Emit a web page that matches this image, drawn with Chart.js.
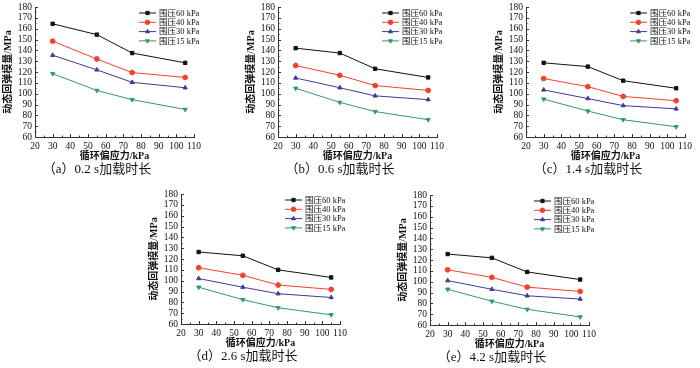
<!DOCTYPE html>
<html>
<head>
<meta charset="utf-8">
<script src="https://cdn.jsdelivr.net/npm/chart.js@4/dist/chart.umd.min.js"></script>
<style>
  html, body { margin: 0; padding: 0; background: #fff; overflow: hidden; }
  body { width: 700px; height: 368px; position: relative; }
  canvas { position: absolute; }
</style>
</head>
<body>
<canvas id="c0" width="210" height="181" style="left:0px;top:0px"></canvas>
<canvas id="c1" width="210" height="181" style="left:243px;top:0px"></canvas>
<canvas id="c2" width="210" height="181" style="left:491px;top:0px"></canvas>
<canvas id="c3" width="210" height="181" style="left:146px;top:187px"></canvas>
<canvas id="c4" width="210" height="181" style="left:395px;top:188px"></canvas>
<script>
const stress = [30, 55, 75, 105];
const confining = ['围压60 kPa', '围压40 kPa', '围压30 kPa', '围压15 kPa'];
const captions = ['（a）0.2 s加载时长', '（b）0.6 s加载时长', '（c）1.4 s加载时长', '（d）2.6 s加载时长', '（e）4.2 s加载时长'];
const xTicks = [20, 110];
const yTicks = [60, 180];

// modulus per loading time, rows = 60/40/30/15 kPa
const mod02 = [[164.5, 154.5, 137.5, 128.5], [148.5, 132, 119.5, 115], [135.5, 122, 110.5, 105.5], [118.5, 103, 94.5, 85.5]];
const mod06 = [[142, 137.5, 123, 115], [126, 117, 107.5, 103], [114.5, 105.5, 98, 94.5], [105, 92, 83.5, 76]];
const mod14 = [[128.5, 125, 112, 105], [114, 106.5, 97.5, 93.5], [103.5, 95.5, 89, 86], [95, 84, 76, 69.5]];
const mod26 = [[126.5, 123, 110, 103], [112, 105, 96, 92], [102, 94, 88, 84.5], [94, 82.5, 75, 68.5]];
const mod42 = [[125.5, 122, 109, 102], [111, 104, 95, 91], [101, 93, 87, 84], [93, 82, 74.5, 67.5]];

const colors = ['#111111', '#f4412e', '#3c3c98', '#2f9a6a'];
const styles = ['rect', 'circle', 'triangle', 'triangle'];
const rotations = [0, 0, 0, 180];

const serif = '"Liberation Serif", "Noto Sans CJK SC", serif';

// inward ticks, major every 10, minor every 5
const tickPlugin = {
    id: 'inTicks',
    afterDraw(chart) {
        const { ctx, chartArea, scales } = chart;
        ctx.save();
        ctx.strokeStyle = '#333';
        ctx.lineWidth = 1;
        ctx.beginPath();
        for (let v = yTicks[0]; v <= yTicks[1]; v += 5) {
            const py = Math.round(scales.y.getPixelForValue(v)) + 0.5;
            const len = v % 10 === 0 ? 3 : 1.5;
            ctx.moveTo(chartArea.left, py); ctx.lineTo(chartArea.left + len, py);
        }
        for (let v = xTicks[0]; v <= xTicks[1]; v += 5) {
            const px = Math.round(scales.x.getPixelForValue(v)) + 0.5;
            const len = v % 10 === 0 ? 3 : 1.5;
            ctx.moveTo(px, chartArea.bottom); ctx.lineTo(px, chartArea.bottom - len);
        }
        ctx.stroke();
        ctx.restore();
    }
};

const legendPlugin = {
    id: 'boxLegend',
    afterDraw(chart) {
        const { ctx, chartArea } = chart;
        const x0 = chartArea.left + 104;
        ctx.save();
        chart.data.datasets.forEach((ds, i) => {
            const y = chartArea.top + 6 + i * 9.3;
            ctx.strokeStyle = ds.borderColor;
            ctx.fillStyle = ds.borderColor;
            ctx.lineWidth = 1;
            ctx.beginPath();
            ctx.moveTo(x0, y); ctx.lineTo(x0 + 17, y);
            ctx.stroke();
            Chart.helpers.drawPoint(ctx, { pointStyle: ds.pointStyle, rotation: ds.pointRotation, radius: 2.3, borderWidth: 1 }, x0 + 8.5, y);
            ctx.fillStyle = '#111';
            ctx.font = '8.5px ' + serif;
            ctx.textBaseline = 'middle';
            ctx.fillText(ds.label, x0 + 20, y + 0.5);
        });
        ctx.restore();
    }
};

function makeChart(id, series, caption) {
    const datasets = series.map((vals, i) => ({
        label: confining[i],
        data: vals.map((v, j) => ({ x: stress[j], y: v })),
        borderColor: colors[i],
        backgroundColor: colors[i],
        borderWidth: 1,
        pointStyle: styles[i],
        pointRotation: rotations[i],
        pointRadius: 2.4,
        pointBorderWidth: 1,
        tension: 0
    }));
    new Chart(document.getElementById(id), {
        type: 'line',
        data: { datasets },
        options: {
            responsive: false, animation: false, devicePixelRatio: 1,
            layout: { padding: { left: 0, top: 7, right: 16, bottom: 3.5 } },
            plugins: {
                legend: { display: false },
                tooltip: { enabled: false },
                title: {
                    display: true, position: 'bottom', text: caption, color: '#111',
                    padding: 0, font: { family: serif, size: 13, weight: 'normal', lineHeight: 1.15 }
                }
            },
            scales: {
                x: {
                    type: 'linear', min: xTicks[0], max: xTicks[1],
                    grid: { display: false, drawTicks: false },
                    border: { display: true, color: '#333', width: 1 },
                    ticks: { stepSize: 10, padding: 4, color: '#111', maxRotation: 0, autoSkip: false, font: { family: serif, size: 9.5 } },
                    title: { display: true, text: '循环偏应力/kPa', color: '#111', padding: { top: 0, bottom: 0 }, font: { family: serif, size: 10, weight: 'bold', lineHeight: 1.2 } },
                    afterFit(s) { s.height = 25.5; s.paddingLeft = 0; s.paddingRight = 0; }
                },
                y: {
                    min: yTicks[0], max: yTicks[1],
                    grid: { display: false, drawTicks: false },
                    border: { display: true, color: '#333', width: 1 },
                    ticks: { stepSize: 10, padding: 3, color: '#111', autoSkip: false, font: { family: serif, size: 9.5 } },
                    title: { display: true, text: '动态回弹模量/MPa', color: '#111', padding: { top: 2, bottom: 0 }, font: { family: serif, size: 10, weight: 'bold', lineHeight: 1.2 } },
                    afterFit(s) { s.width = 35; s.paddingTop = 0; s.paddingBottom = 0; }
                }
            }
        },
        plugins: [tickPlugin, legendPlugin]
    });
}

makeChart('c0', mod02, captions[0]);
makeChart('c1', mod06, captions[1]);
makeChart('c2', mod14, captions[2]);
makeChart('c3', mod26, captions[3]);
makeChart('c4', mod42, captions[4]);
</script>
</body>
</html>
